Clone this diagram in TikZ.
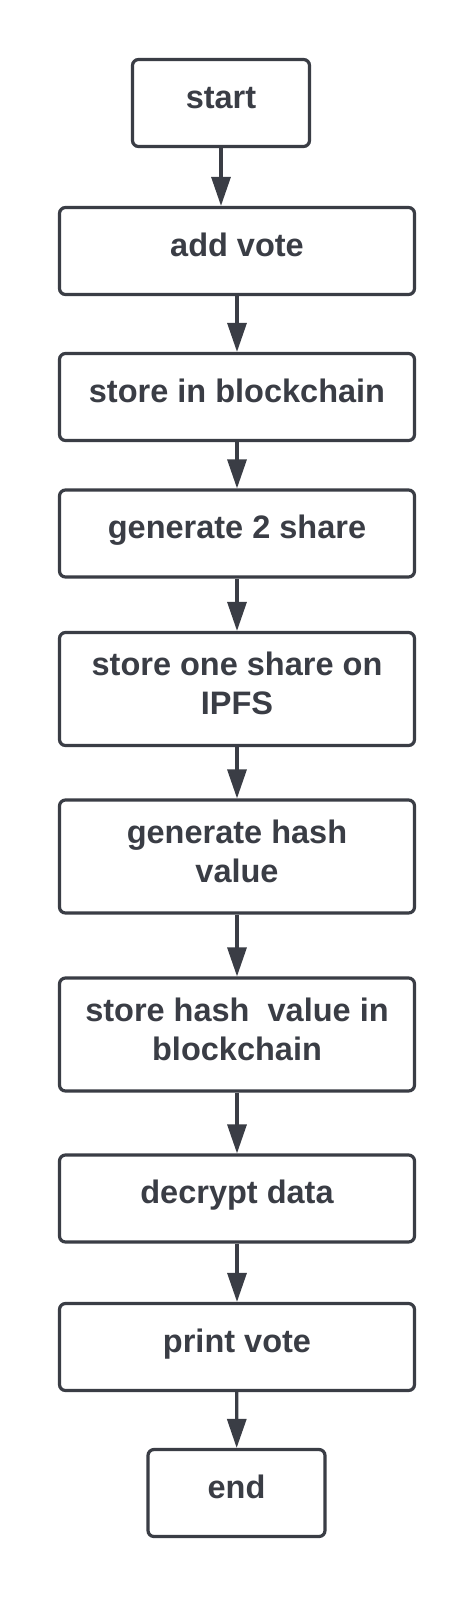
\documentclass[tikz,border=0pt]{standalone}
\usepackage{fontspec}
\setmainfont{Liberation Sans}
\usetikzlibrary{arrows.meta}
\definecolor{ink}{HTML}{3A3D45}
\newcommand{\twolines}[2]{\raisebox{1.5pt}[\height][\depth]{\begin{tabular}{@{}c@{}}#1\\#2\end{tabular}}}
\begin{document}
\begin{tikzpicture}[x=1pt,y=1pt,
  box/.style={draw=ink, line width=3.2pt, rounded corners=6pt, minimum width=355pt,
    minimum height=87pt, inner sep=0pt, text=ink,
    font=\fontsize{32.5}{39}\selectfont\bfseries, align=center},
  one/.style={text height=16pt, text depth=6pt},
  tall/.style={minimum height=113pt},
  small/.style={minimum width=177pt},
  link/.style={draw=ink, line width=3.2pt, -{Triangle[length=29pt,width=19pt]}}]
\fill[white] (0,0) rectangle (474,-1598);
\useasboundingbox (0,0) rectangle (474,-1598);

\node[box,one,small] (start) at (221,-103) {start};
\node[box,one] (add) at (237,-251) {add vote};
\node[box,one] (store) at (237,-397) {store in blockchain};
\node[box,one] (gen) at (237,-533.5) {generate 2 share};
\node[box,tall] (ipfs) at (237,-689) {\twolines{store one share on}{IPFS}};
\node[box,tall] (hash) at (237,-856.5) {\twolines{generate hash}{value}};
\node[box,tall] (shash) at (237,-1034.5) {\twolines{store hash\ \ value in}{blockchain}};
\node[box,one] (dec) at (237,-1198.5) {decrypt data};
\node[box,one] (print) at (237,-1347) {print vote};
\node[box,one,small] (end) at (236.5,-1493) {end};

\draw[link] (start.south) -- (start.south |- add.north);
\draw[link] (add) -- (store);
\draw[link] (store) -- (gen);
\draw[link] (gen) -- (ipfs);
\draw[link] (ipfs) -- (hash);
\draw[link] (hash) -- (shash);
\draw[link] (shash) -- (dec);
\draw[link] (dec) -- (print);
\draw[link] (print) -- (end);
\end{tikzpicture}
\end{document}
